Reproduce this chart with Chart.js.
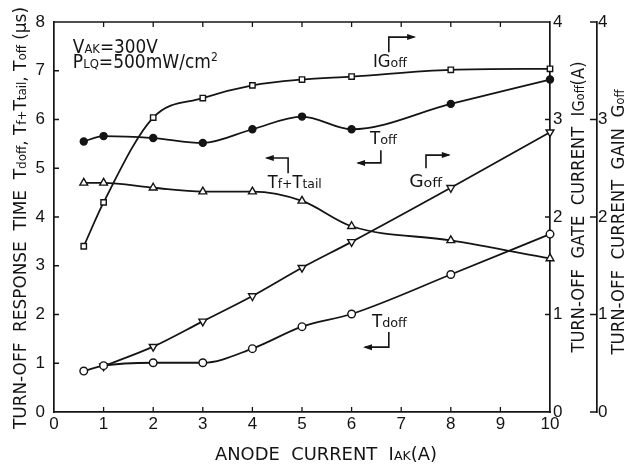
<!DOCTYPE html>
<html><head><meta charset="utf-8">
<script src="https://cdn.jsdelivr.net/npm/chart.js@4.4.1/dist/chart.umd.min.js"></script>
<style>html,body{margin:0;padding:0;background:#fff}#wrap{width:631px;height:464px}</style>
</head><body><div id="wrap"><canvas id="c" width="631" height="464"></canvas></div>
<script>
// ---- data ----
const anodeCurrent = [0.6, 1, 2, 3, 4, 5, 6, 8, 10];
const toff      = [5.55, 5.66, 5.62, 5.52, 5.80, 6.06, 5.80, 6.32, 6.82];
const tfTtail   = [4.70, 4.70, 4.60, 4.52, 4.52, 4.33, 3.81, 3.52, 3.15];
const tdoff     = [0.84, 0.95, 1.01, 1.01, 1.30, 1.75, 2.01, 2.82, 3.65];
const iGoff     = [1.70, 2.15, 3.02, 3.22, 3.35, 3.41, 3.44, 3.51, 3.52];
const goffCurrent = [1, 2, 3, 4, 5, 6, 8, 10];
const goff      = [0.47, 0.67, 0.93, 1.19, 1.48, 1.745, 2.30, 2.87];
const xTickLabels = ['0','1','2','3','4','5','6','7','8','9','10'];
const timeTickLabels = ['0','1','2','3','4','5','6','7','8'];
const rightTickLabels = ['0','1','2','3','4'];

const INK = '#141414';
const FONT = "'DejaVu Sans', sans-serif";

function pts(xs, ys){ return ys.map((y,i)=>({x:xs[i], y:y})); }

// rich text: runs = [text, size, raise]
function richWidth(ctx, runs){
  let w=0; for(const r of runs){ ctx.font = r[1]+'px '+FONT; w += ctx.measureText(r[0]).width; } return w;
}
function drawRich(ctx, runs, x, y, opt){
  opt = opt||{};
  ctx.save();
  const w = richWidth(ctx, runs);
  const sx = opt.width ? opt.width/w : 1;
  ctx.translate(x,y);
  if(opt.rot) ctx.rotate(opt.rot);
  ctx.scale(sx,1);
  let cx = opt.center ? -w/2 : 0;
  ctx.fillStyle = INK; ctx.textBaseline='alphabetic'; ctx.textAlign='left';
  for(const r of runs){
    ctx.font = r[1]+'px '+FONT;
    ctx.fillText(r[0], cx, -(r[2]||0));
    cx += ctx.measureText(r[0]).width;
  }
  ctx.restore();
}

const titles = {
  left: [['TURN-OFF  RESPONSE  TIME  ',17],['T',17],['doff',12],[', ',17],['T',17],['f',12],['+',12],['T',17],['tail',12],[', ',17],['T',17],['off',12],[' (\u03bcs)',17]],
  right1: [['TURN-OFF  GATE  CURRENT  ',17],['I',17],['G',15],['off',12],['(A)',17]],
  right2: [['TURN-OFF  CURRENT  GAIN  ',17],['G',17],['off',12]],
  bottom: [['ANODE  CURRENT  ',17],['I',17],['AK',12],['(A)',17]]
};

// annotation labels: [runs, x value, y (time axis) value, width px]
const notes = [
  [[['V',19],['AK',13],['=300V',19]], 0.38, 7.36, 85],
  [[['P',19],['LQ',13],['=500mW/cm',19],['2',12,7]], 0.38, 7.06, 145],
  [[['I',17],['G',17],['off',13]], 6.43, 7.08, 34],
  [[['T',17],['off',13]], 6.37, 5.50, 27],
  [[['T',17],['f',13],['+',13],['T',17],['tail',13]], 4.31, 4.59, 54],
  [[['G',17],['off',13]], 7.16, 4.62, 33],
  [[['T',17],['doff',13]], 6.41, 1.74, 35]
];
// arrows: polyline in data coords, head at last point
const arrows = [
  [[6.75,7.38],[6.75,7.69],[7.26,7.69]],
  [[6.59,5.37],[6.59,5.11],[6.13,5.11]],
  [[4.72,4.90],[4.72,5.21],[4.29,5.21]],
  [[7.50,5.00],[7.50,5.27],[7.96,5.27]],
  [[6.75,1.64],[6.75,1.33],[6.27,1.33]]
];

const decor = {
  id:'decor',
  afterDraw(chart){
    const ctx = chart.ctx, a = chart.chartArea;
    const sx = chart.scales.x, sy = chart.scales.y, s2 = chart.scales.y2, s3 = chart.scales.y3;
    ctx.save();
    ctx.strokeStyle = INK; ctx.lineWidth = 1.7;
    // top frame
    ctx.beginPath(); ctx.moveTo(a.left, a.top); ctx.lineTo(a.right, a.top); ctx.stroke();
    // inward ticks
    ctx.lineWidth = 1.3;
    ctx.beginPath();
    for(let v=1; v<10; v++){
      const px = sx.getPixelForValue(v);
      ctx.moveTo(px, a.bottom); ctx.lineTo(px, a.bottom-5);
      ctx.moveTo(px, a.top); ctx.lineTo(px, a.top+5);
    }
    for(let v=1; v<8; v++){ const py = sy.getPixelForValue(v); ctx.moveTo(a.left,py); ctx.lineTo(a.left+5,py); }
    for(let v=1; v<4; v++){ const py = s2.getPixelForValue(v); ctx.moveTo(a.right,py); ctx.lineTo(a.right-5,py); }
    for(let v=0; v<=4; v++){ const py = s3.getPixelForValue(v); ctx.moveTo(s3.left,py); ctx.lineTo(s3.left-7,py); }
    ctx.stroke();
    // arrows
    ctx.lineWidth = 1.6;
    for(const ar of arrows){
      const P = ar.map(p=>[sx.getPixelForValue(p[0]), sy.getPixelForValue(p[1])]);
      ctx.beginPath(); ctx.moveTo(P[0][0],P[0][1]);
      for(let i=1;i<P.length;i++) ctx.lineTo(P[i][0],P[i][1]);
      ctx.stroke();
      const e = P[P.length-1], b = P[P.length-2];
      const ang = Math.atan2(e[1]-b[1], e[0]-b[0]);
      ctx.beginPath();
      ctx.moveTo(e[0]+2*Math.cos(ang), e[1]+2*Math.sin(ang));
      ctx.lineTo(e[0]-7*Math.cos(ang)+3*Math.sin(ang), e[1]-7*Math.sin(ang)-3*Math.cos(ang));
      ctx.lineTo(e[0]-7*Math.cos(ang)-3*Math.sin(ang), e[1]-7*Math.sin(ang)+3*Math.cos(ang));
      ctx.closePath(); ctx.fillStyle = INK; ctx.fill();
    }
    // notes
    for(const n of notes){
      drawRich(ctx, n[0], sx.getPixelForValue(n[1]), sy.getPixelForValue(n[2]), {width:n[3]});
    }
    // axis titles
    drawRich(ctx, titles.left, 26, 218, {rot:-Math.PI/2, center:true, width:422});
    drawRich(ctx, titles.right1, 584, 207, {rot:-Math.PI/2, center:true, width:291});
    drawRich(ctx, titles.right2, 624, 222, {rot:-Math.PI/2, center:true, width:265});
    drawRich(ctx, titles.bottom, 326, 460, {center:true, width:222});
    ctx.restore();
  }
};

const tickFont = {family:"'Liberation Sans', sans-serif", size:17};
const gridOff = {display:false, drawTicks:false, tickLength:0};
const lineBase = {borderColor:INK, borderWidth:1.8, cubicInterpolationMode:'monotone', pointBorderColor:INK, pointBorderWidth:1.4, clip:false};

new Chart(document.getElementById('c'), {
  type:'line',
  data:{ datasets:[
    Object.assign({label:'Toff', data:pts(anodeCurrent,toff), yAxisID:'y', pointStyle:'circle', pointRadius:3.5, pointBackgroundColor:INK}, lineBase),
    Object.assign({label:'Tf+Ttail', data:pts(anodeCurrent,tfTtail), yAxisID:'y', pointStyle:'triangle', pointRadius:4.5, pointBackgroundColor:'#fff'}, lineBase),
    Object.assign({label:'Tdoff', data:pts(anodeCurrent,tdoff), yAxisID:'y', pointStyle:'circle', pointRadius:3.8, pointBackgroundColor:'#fff'}, lineBase),
    Object.assign({label:'IGoff', data:pts(anodeCurrent,iGoff), yAxisID:'y2', pointStyle:'rect', pointRadius:3.8, pointBackgroundColor:'#fff'}, lineBase),
    Object.assign({label:'Goff', data:pts(goffCurrent,goff), yAxisID:'y3', pointStyle:'triangle', pointRotation:180, pointRadius:4.5, pointBackgroundColor:'#fff'}, lineBase)
  ]},
  options:{
    responsive:false, animation:false, devicePixelRatio:1,
    layout:{padding:{top:22, left:0, right:0, bottom:0}},
    plugins:{legend:{display:false}, tooltip:{enabled:false}},
    scales:{
      x:{type:'linear', position:'bottom', min:0, max:10,
         afterFit:s=>{s.height=52;},
         ticks:{stepSize:1, autoSkip:false, maxRotation:0, padding:2, color:INK, font:tickFont, callback:v=>xTickLabels[v]},
         grid:gridOff, border:{color:INK, width:1.7}},
      y:{type:'linear', position:'left', min:0, max:8,
         afterFit:s=>{s.width=54;},
         ticks:{stepSize:1, autoSkip:false, padding:9, color:INK, font:tickFont, callback:v=>timeTickLabels[v]},
         grid:gridOff, border:{color:INK, width:1.7}},
      y2:{type:'linear', position:'right', min:0, max:4,
         afterFit:s=>{s.width=47;},
         ticks:{stepSize:1, autoSkip:false, padding:3, color:INK, font:tickFont, callback:v=>rightTickLabels[v]},
         grid:gridOff, border:{color:INK, width:1.7}},
      y3:{type:'linear', position:'right', min:0, max:4,
         afterFit:s=>{s.width=34;},
         ticks:{stepSize:1, autoSkip:false, padding:1, color:INK, font:tickFont, callback:v=>rightTickLabels[v]},
         grid:gridOff, border:{color:INK, width:1.7}}
    }
  },
  plugins:[decor]
});
</script>
</body></html>
